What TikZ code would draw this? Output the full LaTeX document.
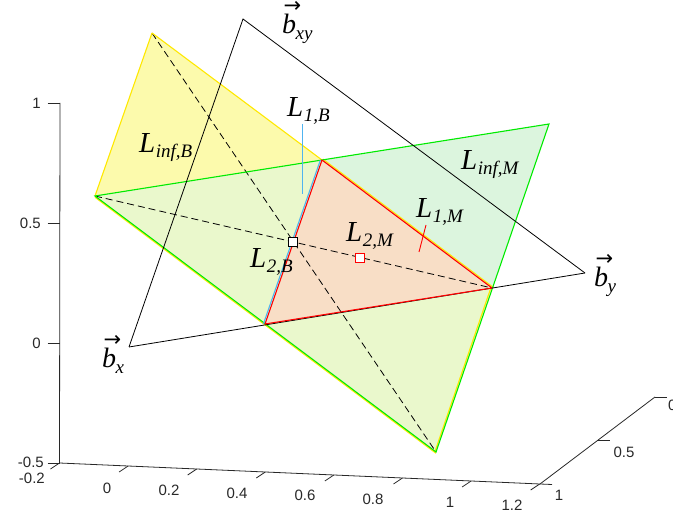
\documentclass[tikz,border=0pt]{standalone}
\usepackage{fontspec}
\newfontfamily\tms{Liberation Serif}
\newfontfamily\axf{Liberation Sans}
\newfontfamily\djv{DejaVu Sans}
\usetikzlibrary{arrows.meta}
\definecolor{yonly}{RGB}{252,250,172}
\definecolor{gonly}{RGB}{220,245,222}
\definecolor{ovl}{RGB}{234,248,204}
\definecolor{peach}{RGB}{248,222,198}
\definecolor{yedge}{RGB}{255,232,0}
\definecolor{gedge}{RGB}{0,235,0}
\definecolor{redge}{RGB}{255,0,0}
\definecolor{bedge}{RGB}{80,180,240}
\definecolor{axc}{RGB}{40,40,40}
\newcommand{\Lab}[1]{{\fontsize{29}{29}\selectfont\tms\itshape L\kern0.5pt\raisebox{-5pt}{\fontsize{19}{19}\selectfont #1}}}
\newcommand{\Vb}[1]{{\fontsize{28}{28}\selectfont\tms\itshape\rlap{\kern1.5pt\raisebox{21pt}{\fontsize{21}{21}\selectfont\djv\upshape →}}b\kern-0.5pt\raisebox{-6pt}{\fontsize{19}{19}\selectfont #1}}}
\begin{document}
\begin{tikzpicture}[x=1pt,y=-1pt,
  lbl/.style={inner sep=0pt, anchor=base west},
  tk/.style={font=\axf\fontsize{15}{15}\selectfont, text=axc, inner sep=0pt},
  axl/.style={draw=axc, line width=0.8pt},
  blk/.style={draw=black, line width=0.8pt},
  dsh/.style={draw=black, line width=0.8pt, dash pattern=on 7pt off 4pt},
  yl/.style={draw=yedge, line width=1.1pt},
  gl/.style={draw=gedge, line width=1.1pt},
  rl/.style={draw=redge, line width=1.1pt},
  bl/.style={draw=bedge, line width=1.1pt},
  sq/.style={rectangle, draw=black, fill=white, line width=0.9pt, minimum size=9pt, inner sep=0pt}]
\useasboundingbox (0,0) rectangle (673,516);
% key points
\coordinate (Y1) at (152,33);
\coordinate (P)  at (322,160);
\coordinate (Y2) at (492,288);
\coordinate (Y3) at (436,452);
\coordinate (G1) at (95,196);
\coordinate (G2) at (549,124);
\coordinate (R)  at (265,324);
\coordinate (bxy) at (243,19);
\coordinate (bx) at (129,347);
\coordinate (by) at (585,273);
% fills
\fill[yonly] (Y1) -- (P) -- (G1) -- cycle;
\fill[gonly] (P) -- (G2) -- (Y2) -- cycle;
\fill[ovl] (G1) -- (P) -- (Y2) -- (Y3) -- cycle;
\fill[peach] (P) -- (Y2) -- (R) -- cycle;
% dashed diagonals
\draw[dsh] (Y1) -- (Y3);
\draw[dsh] (G1) -- (Y2);
% yellow edges
\draw[yl] (Y1) -- (P);
\draw[yl] (Y1) -- (G1);
\draw[yl] ([shift={(0.9,-0.9)}]P) -- ([shift={(0.9,-0.9)}]Y2);
\draw[yl] ([shift={(0,1.3)}]G1) -- ([shift={(0,1.3)}]Y3);
\draw[yl] ([shift={(-1.2,0)}]Y3) -- ([shift={(-1.2,0)}]Y2);
% green edges
\draw[gl] (G1) -- (G2) -- (Y3) -- cycle;
% black triangle
\draw[blk] (bx) -- (bxy) -- (by);
\draw[blk] (bx) -- (by);
% red triangle
\draw[rl, line join=round] (P) -- (Y2) -- (R) -- cycle;
% blue lines
\draw[bl] ([shift={(-1.6,0)}]R) -- ([shift={(-1.6,0)}]P);
\coordinate (l1bt) at (302.5,124);
\coordinate (l1bb) at (302.5,194);
\draw[bl] (l1bt) -- (l1bb);
\coordinate (l1mt) at (426,225);
\coordinate (l1mb) at (419,252);
\draw[rl, line width=0.9pt] (l1mt) -- (l1mb);
% squares
\node[sq] (c2b) at (293,242) {};
\node[sq, draw=redge] (c2m) at (360,258) {};
% labels
\node[lbl] (tbxy) at (282,34) {\Vb{xy}};
\node[lbl] (tby) at (594,287) {\Vb{y}};
\node[lbl] (tbx) at (102,367) {\Vb{x}};
\node[lbl] (tl1b) at (287,117) {\Lab{1,B}};
\node[lbl] (tlinfb) at (139,153) {\Lab{inf,B}};
\node[lbl] (tlinfm) at (461,170) {\Lab{inf,M}};
\node[lbl] (tl1m) at (416,218) {\Lab{1,M}};
\node[lbl] (tl2m) at (346,242) {\Lab{2,M}};
\node[lbl] (tl2b) at (250,268) {\Lab{2,B}};
% axes
\coordinate (zt) at (60,103);
\coordinate (zb) at (59.5,463);
\coordinate (xe) at (540,484);
\coordinate (ye) at (655,397);
\draw[axl] (zt) -- (zb) -- (xe) -- (ye);
\foreach \yy in {103,223,343,463} \draw[axl] (47.5,\yy) -- (60,\yy);
\foreach \i in {0,...,7} \draw[axl] (59.5+68.6*\i,463+3*\i) -- ++(-9,6);
\draw[axl] (ye) -- ++(12,0);
\draw[axl] (597.5,440.5) -- ++(12,0);
\draw[axl] (xe) -- ++(12,0.5);
\node[tk, anchor=east] (z1) at (41,103) {1};
\node[tk, anchor=east] (z05) at (41,223) {0.5};
\node[tk, anchor=east] (z0) at (41,343) {0};
\node[tk, anchor=east] (zm05) at (44,462) {-0.5};
\node[tk, anchor=east] (xm02) at (45,478) {-0.2};
\node[tk] (x0) at (107,488) {0};
\node[tk] (x02) at (169,490) {0.2};
\node[tk] (x04) at (237,493) {0.4};
\node[tk] (x06) at (305,495) {0.6};
\node[tk] (x08) at (373,499) {0.8};
\node[tk] (x1) at (450,502) {1};
\node[tk] (x12) at (512,505) {1.2};
\node[tk] (y1) at (559,495) {1};
\node[tk] (y05) at (624,452) {0.5};
\node[tk, anchor=west] (y0) at (668,405) {0};
\end{tikzpicture}
\end{document}
